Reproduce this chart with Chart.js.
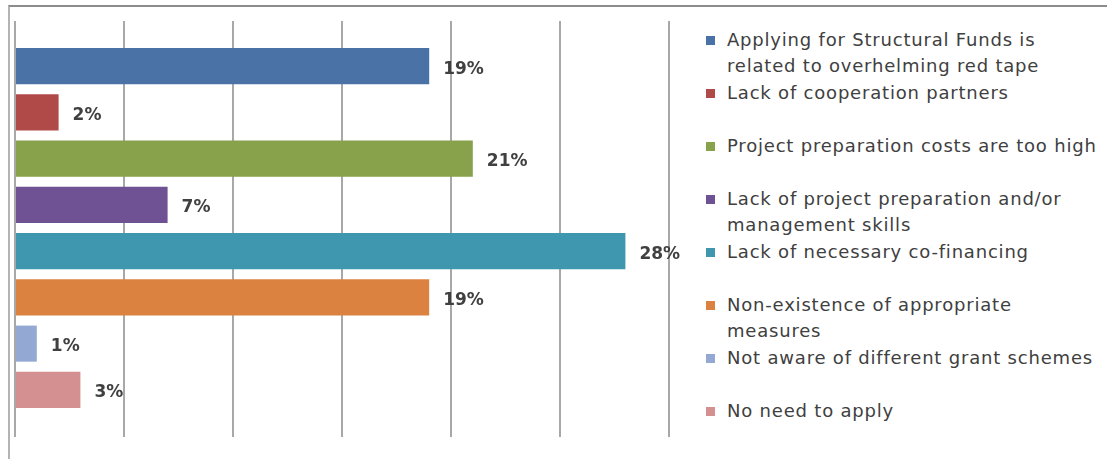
<!DOCTYPE html>
<html>
<head>
<meta charset="utf-8">
<script src="https://cdn.jsdelivr.net/npm/chart.js@4.4.1/dist/chart.umd.min.js"></script>
<style>
  html, body { margin: 0; padding: 0; background: #fff; }
  #wrap { position: relative; width: 1107px; height: 459px; overflow: hidden; }
  #frame { position: absolute; left: 8px; top: 5px; right: 0; bottom: 0;
           border-top: 2px solid #8c8c8c; border-left: 2px solid #b4b4b4; }
  #chartBox { position: absolute; left: 0; top: 0; width: 700px; height: 459px; }
  #legend { position: absolute; left: 706px; top: 0; font-family: "DejaVu Sans", sans-serif;
            font-size: 18px; letter-spacing: 0.8px; color: #404040; }
  .item { position: absolute; left: 0; white-space: nowrap; line-height: 26px; }
  .item .box { position: absolute; left: 0; top: 9px; width: 9px; height: 9px; }
  .item .txt { position: absolute; left: 21px; top: 0; }
</style>
</head>
<body>
<div id="wrap">
  <div id="frame"></div>
  <div id="chartBox"><canvas id="chart"></canvas></div>
  <div id="legend"></div>
</div>
<script>
// categories (legend text, already wrapped like the original)
const labels = [
  ["Applying for Structural Funds is", "related to overhelming red tape"],
  ["Lack of cooperation partners"],
  ["Project preparation costs are too high"],
  ["Lack of project preparation and/or", "management skills"],
  ["Lack of necessary co-financing"],
  ["Non-existence of appropriate", "measures"],
  ["Not aware of different grant schemes"],
  ["No need to apply"]
];
const values = [19, 2, 21, 7, 28, 19, 1, 3];
const colors = ["#4a72a6", "#b04a48", "#87a24a", "#6e5294", "#3e97ae", "#dc8240", "#93a9d4", "#d49090"];
const xMax = 30;
const xStep = 5;

// value labels next to bar ends
const valueLabels = {
    id: 'valueLabels',
    afterDatasetsDraw(chart) {
        const ctx = chart.ctx;
        const meta = chart.getDatasetMeta(0);
        ctx.save();
        ctx.font = "bold 17px 'DejaVu Sans'";
        ctx.fillStyle = "#404040";
        ctx.textBaseline = "middle";
        ctx.textAlign = "left";
        meta.data.forEach((bar, i) => {
            ctx.fillText(values[i] + "%", bar.x + 14, bar.y + 3);
        });
        ctx.restore();
    }
};

const gridColor = "#a8a8a8";

new Chart(document.getElementById('chart').getContext('2d'), {
    type: 'bar',
    data: {
        labels: labels.map(l => l.join(' ')),
        datasets: [{
            data: values,
            backgroundColor: colors,
            borderWidth: 0,
            categoryPercentage: 1,
            barPercentage: 0.78
        }]
    },
    options: {
        indexAxis: 'y',
        responsive: true,
        maintainAspectRatio: false,
        animation: false,
        layout: { padding: { left: 15, right: 31, top: 21, bottom: 22 } },
        plugins: { legend: { display: false }, tooltip: { enabled: false } },
        scales: {
            y: { display: false },
            x: {
                position: 'bottom',
                min: 0, max: xMax,
                ticks: { display: false, stepSize: xStep },
                border: { display: false },
                grid: { color: gridColor, lineWidth: 2, drawTicks: true, tickLength: 24 }
            },
            x2: {
                type: 'linear',
                position: 'top',
                min: 0, max: xMax,
                ticks: { display: false, stepSize: xStep },
                border: { display: false },
                grid: { color: gridColor, lineWidth: 2, drawOnChartArea: false, drawTicks: true, tickLength: 22 }
            }
        }
    },
    plugins: [valueLabels]
});

// legend built from the same arrays
const legend = document.getElementById('legend');
labels.forEach((lines, i) => {
    const item = document.createElement('div');
    item.className = 'item';
    item.style.top = (27 + i * 53) + 'px';
    item.innerHTML = '<span class="box" style="background:' + colors[i] + '"></span>' +
                     '<span class="txt">' + lines.join('<br>') + '</span>';
    legend.appendChild(item);
});
</script>
</body>
</html>
